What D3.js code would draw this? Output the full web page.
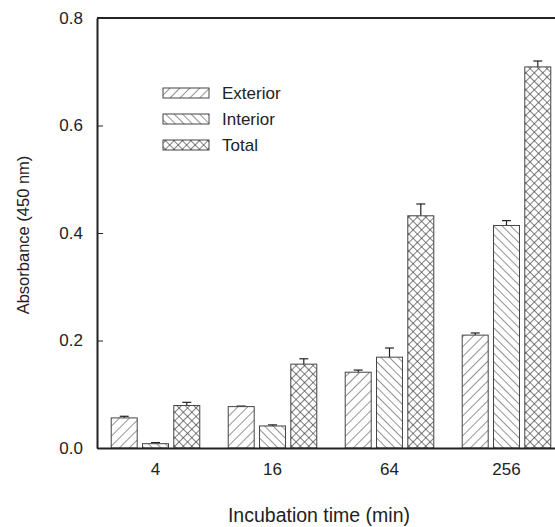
<!DOCTYPE html>
<html>
<head>
<meta charset="utf-8">
<script src="https://cdn.jsdelivr.net/npm/d3@7"></script>
<style>
  html, body { margin: 0; padding: 0; background: #fff; }
  svg { display: block; }
  text { font-family: "Liberation Sans", Arial, sans-serif; fill: #222; }
</style>
</head>
<body>
<svg id="chart" width="555" height="527"></svg>
<script>
// ---- data ----
const categories = ["4", "16", "64", "256"];
const seriesNames = ["Exterior", "Interior", "Total"];
const exteriorValues = [0.056, 0.077, 0.141, 0.210];
const interiorValues = [0.008, 0.041, 0.169, 0.414];
const totalValues    = [0.079, 0.156, 0.432, 0.709];
const exteriorErrors = [0.003, 0.001, 0.004, 0.004];
const interiorErrors = [0.002, 0.002, 0.017, 0.009];
const totalErrors    = [0.006, 0.010, 0.022, 0.011];
const yTicks = [0.0, 0.2, 0.4, 0.6, 0.8];

(function () {
const seriesValues = [exteriorValues, interiorValues, totalValues];
const seriesErrors = [exteriorErrors, interiorErrors, totalErrors];

const svg = d3.select("#chart");
const mLeft = 97, mRight = 565, mTop = 18, mBottom = 448;
const ink = "#222";
const hatch = "#3a3a3a";

// patterns
const defs = svg.append("defs");
const p1 = defs.append("pattern").attr("id", "pExt").attr("patternUnits", "userSpaceOnUse")
  .attr("width", 7).attr("height", 7).attr("patternTransform", "rotate(45)");
p1.append("rect").attr("width", 7).attr("height", 7).attr("fill", "#fff");
p1.append("line").attr("x1", 0).attr("y1", 0).attr("x2", 0).attr("y2", 7)
  .attr("stroke", hatch).attr("stroke-width", 1.1);
const p2 = defs.append("pattern").attr("id", "pInt").attr("patternUnits", "userSpaceOnUse")
  .attr("width", 6).attr("height", 6).attr("patternTransform", "rotate(-45)");
p2.append("rect").attr("width", 6).attr("height", 6).attr("fill", "#fff");
p2.append("line").attr("x1", 0).attr("y1", 0).attr("x2", 0).attr("y2", 6)
  .attr("stroke", hatch).attr("stroke-width", 1.1);
const p3 = defs.append("pattern").attr("id", "pTot").attr("patternUnits", "userSpaceOnUse")
  .attr("width", 6).attr("height", 6).attr("patternTransform", "rotate(45)");
p3.append("rect").attr("width", 6).attr("height", 6).attr("fill", "#fff");
p3.append("line").attr("x1", 0).attr("y1", 0).attr("x2", 0).attr("y2", 6)
  .attr("stroke", hatch).attr("stroke-width", 1.3);
p3.append("line").attr("x1", 0).attr("y1", 0).attr("x2", 6).attr("y2", 0)
  .attr("stroke", hatch).attr("stroke-width", 1.3);
const fills = ["url(#pExt)", "url(#pInt)", "url(#pTot)"];

// scales
const x0 = d3.scaleBand().domain(categories).range([mLeft, mRight])
  .paddingInner(0.243).paddingOuter(0.1215);
const x1 = d3.scaleBand().domain(seriesNames).range([0, x0.bandwidth()])
  .paddingInner(0.17).paddingOuter(0);
const y = d3.scaleLinear().domain([0, 0.8]).range([mBottom, mTop]);

// bars
categories.forEach((c, i) => {
  const g = svg.append("g").attr("transform", `translate(${x0(c)},0)`);
  seriesNames.forEach((s, k) => {
    const v = seriesValues[k][i], e = seriesErrors[k][i];
    const bx = x1(s), bw = x1.bandwidth();
    const cx = bx + bw / 2;
    g.append("line").attr("x1", cx).attr("x2", cx)
      .attr("y1", y(v)).attr("y2", y(v + e)).attr("stroke", ink).attr("stroke-width", 1.2);
    g.append("line").attr("x1", cx - 4.5).attr("x2", cx + 4.5)
      .attr("y1", y(v + e)).attr("y2", y(v + e)).attr("stroke", ink).attr("stroke-width", 1.2);
    g.append("rect").attr("x", bx).attr("y", y(v)).attr("width", bw)
      .attr("height", y(0) - y(v)).attr("fill", fills[k])
      .attr("stroke", "#444").attr("stroke-width", 1);
  });
});

// axes
const yAxis = d3.axisLeft(y).tickValues(yTicks).tickFormat(d3.format(".1f"))
  .tickSizeInner(-6).tickSizeOuter(0).tickPadding(14);
const ya = svg.append("g").attr("transform", `translate(${mLeft},0)`).call(yAxis);
ya.select(".domain").attr("stroke", ink).attr("stroke-width", 2);
ya.selectAll(".tick line").attr("stroke", ink).attr("stroke-width", 1);
ya.selectAll(".tick text").attr("font-size", 17).attr("fill", ink)
  .attr("font-family", "Liberation Sans, Arial, sans-serif");

const xAxis = d3.axisBottom(x0).tickSize(0).tickPadding(15);
const xa = svg.append("g").attr("transform", `translate(0,${mBottom})`).call(xAxis);
xa.select(".domain").attr("stroke", ink).attr("stroke-width", 2);
xa.selectAll(".tick text").attr("font-size", 17).attr("fill", ink)
  .attr("font-family", "Liberation Sans, Arial, sans-serif");

// frame lines
svg.append("line").attr("x1", mLeft).attr("x2", mRight).attr("y1", mTop).attr("y2", mTop)
  .attr("stroke", ink).attr("stroke-width", 2);
svg.append("line").attr("x1", mRight).attr("x2", mRight).attr("y1", mTop).attr("y2", mBottom)
  .attr("stroke", ink).attr("stroke-width", 2);

// axis titles
svg.append("text").attr("transform", "translate(29,235) rotate(-90)")
  .attr("text-anchor", "middle").attr("font-size", 16.5).text("Absorbance (450 nm)");
svg.append("text").attr("x", 319).attr("y", 522)
  .attr("text-anchor", "middle").attr("font-size", 19.5).text("Incubation time (min)");

// legend
const legendY = [88, 114, 140];
seriesNames.forEach((s, k) => {
  svg.append("rect").attr("x", 163).attr("y", legendY[k]).attr("width", 46).attr("height", 10)
    .attr("fill", fills[k]).attr("stroke", "#444").attr("stroke-width", 1);
  svg.append("text").attr("x", 222).attr("y", legendY[k] + 11)
    .attr("font-size", 17).text(s);
});
})();
</script>
</body>
</html>
